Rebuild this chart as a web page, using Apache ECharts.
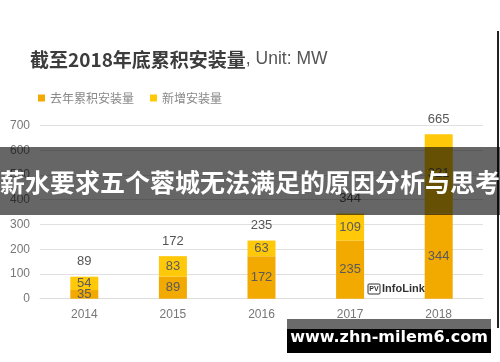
<!DOCTYPE html>
<html><head><meta charset="utf-8">
<script src="https://cdn.jsdelivr.net/npm/echarts@6/dist/echarts.min.js"></script>
<style>html,body{margin:0;padding:0;background:#fff}#c{width:500px;height:362px}</style>
</head><body><div id="c"></div>
<script>
const years = ['2014','2015','2016','2017','2018'];
const prevCumulative = [35, 89, 172, 235, 344];
const newInstalled = [54, 83, 63, 109, 321];
const totals = [89, 172, 235, 344, 665];
const yTicks = [0, 100, 200, 300, 400, 500, 600, 700];

const chart = echarts.init(document.getElementById('c'));
const lblStyle = {show: true, position: 'inside', color: '#5a5a5a', fontSize: 13, fontFamily: 'Liberation Sans, Arial'};
chart.setOption({
  animation: false,
  backgroundColor: '#fff',
  title: {
    left: 25, top: 45,
    text: '{b|截至2018年底累积安装量}{n|, Unit: MW}',
    textStyle: {
      fontWeight: 'normal',
      rich: {
        b: {fontSize: 19, fontWeight: 'bold', color: '#3c3c3c', fontFamily: 'Noto Sans CJK SC, Liberation Sans'},
        n: {fontSize: 17.5, fontWeight: 'normal', color: '#555', fontFamily: 'Liberation Sans, Arial'}
      }
    }
  },
  legend: {
    left: 33, top: 87, icon: 'rect', itemWidth: 7, itemHeight: 7, itemGap: 16,
    textStyle: {fontSize: 12, color: '#888', fontFamily: 'Noto Sans CJK SC'},
    data: ['去年累积安装量', '新增安装量']
  },
  grid: {left: 40, right: 17, top: 125.5, bottom: 63.3, containLabel: false},
  xAxis: {
    type: 'category', data: years,
    axisLine: {lineStyle: {color: '#ddd'}}, axisTick: {show: false},
    axisLabel: {color: '#777', fontSize: 12, margin: 10, fontFamily: 'Liberation Sans, Arial'}
  },
  yAxis: {
    type: 'value', min: yTicks[0], max: yTicks[yTicks.length - 1], interval: 100,
    axisLine: {show: false}, axisTick: {show: false},
    splitLine: {lineStyle: {color: '#e0e0e0'}},
    axisLabel: {color: '#777', fontSize: 12, margin: 10, fontFamily: 'Liberation Sans, Arial'}
  },
  series: [
    {name: '去年累积安装量', type: 'bar', stack: 's', barWidth: 28, data: prevCumulative,
     itemStyle: {color: '#F2A900'}, label: lblStyle},
    {name: '新增安装量', type: 'bar', stack: 's', barWidth: 28, data: newInstalled,
     itemStyle: {color: '#FFC90A'}, label: lblStyle},
    {name: 'total', type: 'line', data: totals, symbol: 'circle', symbolSize: 1, showSymbol: true,
     itemStyle: {color: 'rgba(0,0,0,0)'}, lineStyle: {width: 0, color: 'rgba(0,0,0,0)'},
     label: {show: true, position: 'top', distance: 8, color: '#555', fontSize: 13, fontFamily: 'Liberation Sans, Arial'},
     tooltip: {show: false}}
  ],
  graphic: [
    {type: 'line', shape: {x1: 498, y1: 31, x2: 498, y2: 328}, style: {stroke: '#222', lineWidth: 2}, z: 100},
    {type: 'rect', shape: {x: 368, y: 284, width: 12, height: 10, r: 1}, style: {fill: '#fff', stroke: '#333', lineWidth: 1}, z: 100},
    {type: 'text', x: 374, y: 289, style: {text: 'PV', fontSize: 7, fontWeight: 'bold', fill: '#333', align: 'center', verticalAlign: 'middle', fontFamily: 'Liberation Sans'}, z: 101},
    {type: 'text', x: 382, y: 289, style: {text: 'InfoLink', fontSize: 11, fontWeight: 'bold', fill: '#333', align: 'left', verticalAlign: 'middle', fontFamily: 'Liberation Sans'}, z: 101},
    {type: 'rect', shape: {x: 0, y: 147, width: 500, height: 68}, style: {fill: 'rgba(0,0,0,0.6)'}, z: 200},
    {type: 'text', x: 250, y: 182, style: {text: '薪水要求五个蓉城无法满足的原因分析与思考', fontSize: 25, fontWeight: 'bold', fill: '#fff', align: 'center', verticalAlign: 'middle', fontFamily: 'Noto Sans CJK SC'}, z: 201},
    {type: 'rect', shape: {x: 287, y: 319, width: 204, height: 10}, style: {fill: '#6a6a6a'}, z: 200},
    {type: 'rect', shape: {x: 287, y: 329, width: 204, height: 24}, style: {fill: '#000'}, z: 200},
    {type: 'text', x: 389, y: 338, style: {text: 'www.zhn-milem6.com', fontSize: 16, fontWeight: 'bold', fill: '#fff', align: 'center', verticalAlign: 'middle', fontFamily: 'DejaVu Sans'}, z: 201}
  ]
});
</script></body></html>
